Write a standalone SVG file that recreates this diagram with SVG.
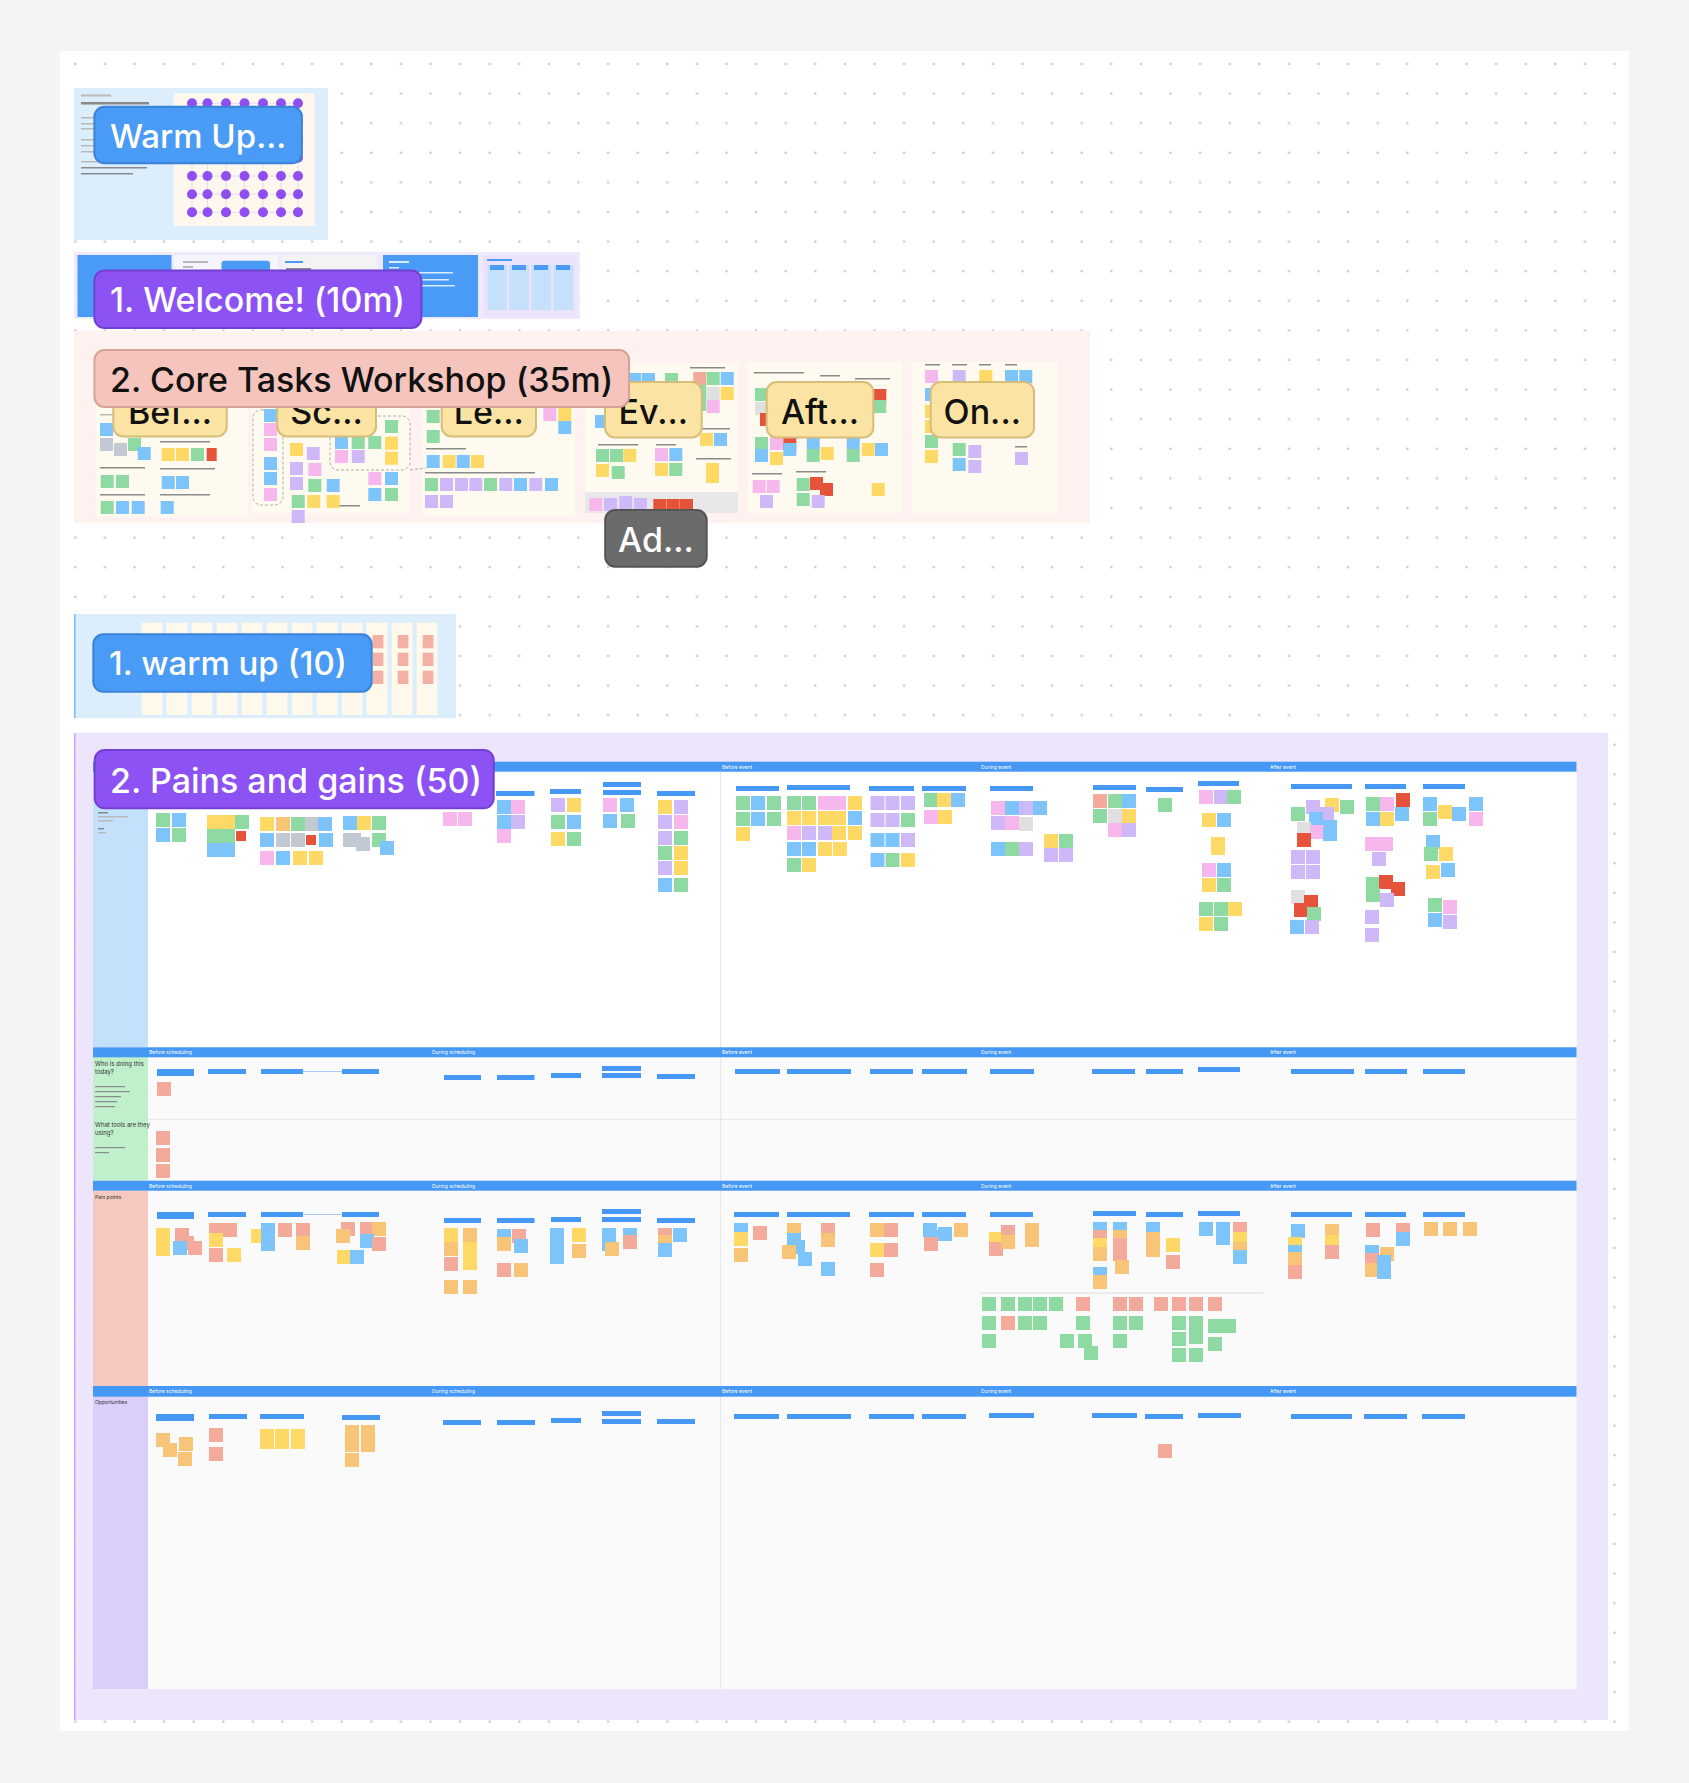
<svg xmlns="http://www.w3.org/2000/svg" width="1689" height="1783" viewBox="0 0 1689 1783">
<defs>
<pattern id="dots" width="29.6" height="29.6" patternUnits="userSpaceOnUse"><circle cx="16.1" cy="4.8" r="1.4" fill="#cdcdcd"/></pattern>
<style>
.s{width:14px;height:14px}
.c{width:13px;height:13px}
.Y{fill:#ffd966}.G{fill:#8fd9a3}.B{fill:#7dc4fa}.Pk{fill:#f6b8ec}.Pu{fill:#cfb8f7}.Sa{fill:#f4aa9b}.O{fill:#f8c477}.R{fill:#e5533a}.Gr{fill:#c3c9d3}.Lg{fill:#e0e0e0}
.hd{fill:#4598f3;height:5px}
.strip{fill:#4598f3}
.st{font-family:Inter,"Liberation Sans",sans-serif;font-size:5px;fill:#ffffff}
.lbl{font-family:Inter,"Liberation Sans",sans-serif;font-weight:500}
.tl{fill:#b9b9b9}
.td{fill:#8a8a8a}
.tw{fill:#ffffff;opacity:.8}
.pd{fill:#8f4ff0}
.col{fill:#fef9ea}
.pnl{fill:#fffaf0}
.sm{font-family:Inter,"Liberation Sans",sans-serif;font-size:6px;fill:#333}
</style>
</defs>
<rect width="1689" height="1783" fill="#f4f4f4"/>
<rect x="60" y="51" width="1569" height="1680" fill="#ffffff"/>
<rect x="60" y="51" width="1569" height="1680" fill="url(#dots)"/>

<g id="warmup-section">
<rect x="74" y="88" width="254" height="152" fill="#dcedfc"/>
<rect x="173.7" y="93.3" width="140.8" height="132.7" fill="#fdf7ee"/>
<g stroke="#e6dcf0" stroke-width="1">
<path d="M192 103v109M207.5 103v109M226 103v109M244.5 103v109M263 103v109M281 103v109M298 103v109"/>
<path d="M192 103.3h106M192 121.5h106M192 139.7h106M192 157.8h106M192 176h106M192 194.2h106M192 212.3h106"/>
</g>
<g class="pd">
<circle cx="192" cy="103.3" r="5"/><circle cx="207.5" cy="103.3" r="5"/><circle cx="226" cy="103.3" r="5"/><circle cx="244.5" cy="103.3" r="5"/><circle cx="263" cy="103.3" r="5"/><circle cx="281" cy="103.3" r="5"/><circle cx="298" cy="103.3" r="5"/>
<circle cx="192" cy="121.5" r="5"/><circle cx="207.5" cy="121.5" r="5"/><circle cx="226" cy="121.5" r="5"/><circle cx="244.5" cy="121.5" r="5"/><circle cx="263" cy="121.5" r="5"/><circle cx="281" cy="121.5" r="5"/><circle cx="298" cy="121.5" r="5"/>
<circle cx="192" cy="139.7" r="5"/><circle cx="207.5" cy="139.7" r="5"/><circle cx="226" cy="139.7" r="5"/><circle cx="244.5" cy="139.7" r="5"/><circle cx="263" cy="139.7" r="5"/><circle cx="281" cy="139.7" r="5"/><circle cx="298" cy="139.7" r="5"/>
<circle cx="192" cy="157.8" r="5"/><circle cx="207.5" cy="157.8" r="5"/><circle cx="226" cy="157.8" r="5"/><circle cx="244.5" cy="157.8" r="5"/><circle cx="263" cy="157.8" r="5"/><circle cx="281" cy="157.8" r="5"/><circle cx="298" cy="157.8" r="5"/>
<circle cx="192" cy="176" r="5"/><circle cx="207.5" cy="176" r="5"/><circle cx="226" cy="176" r="5"/><circle cx="244.5" cy="176" r="5"/><circle cx="263" cy="176" r="5"/><circle cx="281" cy="176" r="5"/><circle cx="298" cy="176" r="5"/>
<circle cx="192" cy="194.2" r="5"/><circle cx="207.5" cy="194.2" r="5"/><circle cx="226" cy="194.2" r="5"/><circle cx="244.5" cy="194.2" r="5"/><circle cx="263" cy="194.2" r="5"/><circle cx="281" cy="194.2" r="5"/><circle cx="298" cy="194.2" r="5"/>
<circle cx="192" cy="212.3" r="5"/><circle cx="207.5" cy="212.3" r="5"/><circle cx="226" cy="212.3" r="5"/><circle cx="244.5" cy="212.3" r="5"/><circle cx="263" cy="212.3" r="5"/><circle cx="281" cy="212.3" r="5"/><circle cx="298" cy="212.3" r="5"/>
</g>
<rect class="tl" x="81" y="94.5" width="30" height="2"/>
<rect class="td" x="81" y="102" width="68" height="2.5"/>
<rect class="tl" x="81" y="117" width="14" height="1.5"/><rect class="tl" x="81" y="123" width="14" height="1.5"/><rect class="tl" x="81" y="128" width="14" height="1.5"/>
<rect class="tl" x="81" y="139" width="14" height="1.5"/><rect class="tl" x="81" y="145" width="14" height="1.5"/><rect class="tl" x="81" y="151" width="14" height="1.5"/>
<rect class="tl" x="81" y="161" width="66" height="1.5"/><rect class="td" x="81" y="167" width="66" height="1.5"/><rect class="td" x="81" y="173" width="52" height="1.5"/>
<rect x="94.4" y="106.7" width="207.5" height="56.6" rx="10" fill="#4a9bf5" stroke="#3a83d8" stroke-width="2"/>
<text class="lbl" x="110" y="147.5" font-size="33" fill="#ffffff">Warm Up...</text>
</g>

<g id="welcome-section">
<rect x="74" y="252" width="506" height="67" fill="#efe9fb"/>
<rect x="77.5" y="255" width="94" height="62" fill="#4a9bf5"/>
<rect x="173.5" y="255" width="104.5" height="62" fill="#f6f4fd"/>
<rect class="tl" x="183" y="261" width="25" height="2"/><rect class="tl" x="183" y="266" width="10" height="2"/>
<rect x="221.5" y="260.7" width="48.5" height="24" rx="3" fill="#4a9bf5"/>
<rect x="282" y="255" width="95" height="62" fill="#f3f3f3"/>
<rect x="285" y="261" width="18" height="2" fill="#4a9bf5"/><rect class="td" x="286" y="268" width="25" height="2"/>
<rect x="383" y="255" width="95" height="62" fill="#4a9bf5"/>
<rect class="tw" x="389" y="261" width="20" height="2"/><rect class="tw" x="389" y="267" width="10" height="1.5"/><rect class="tw" x="419" y="272" width="34" height="1.5"/><rect class="tw" x="419" y="279" width="30" height="1.5"/><rect class="tw" x="419" y="285" width="36" height="1.5"/>
<rect x="483" y="255" width="94" height="62" fill="#ebe2fb"/>
<rect x="487" y="259" width="25" height="2" fill="#4a9bf5"/>
<rect x="487.5" y="265" width="19.5" height="45" fill="#c4e0fb"/><rect x="509.5" y="265" width="19.5" height="45" fill="#c4e0fb"/><rect x="531.5" y="265" width="19.5" height="45" fill="#c4e0fb"/><rect x="553.5" y="265" width="20" height="45" fill="#c4e0fb"/>
<rect x="490" y="265" width="14" height="5" fill="#4a9bf5"/><rect x="512" y="265" width="14" height="5" fill="#4a9bf5"/><rect x="534" y="265" width="14" height="5" fill="#4a9bf5"/><rect x="556" y="265" width="14" height="5" fill="#4a9bf5"/>
<rect x="94.4" y="270.5" width="327" height="57.5" rx="10" fill="#8c52f3" stroke="#7440d4" stroke-width="2"/>
<text class="lbl" x="110" y="311.5" font-size="34" fill="#ffffff">1. Welcome! (10m)</text>
</g>

<g id="core-tasks-section">
<rect x="74" y="331" width="1016" height="192" fill="#fdf2ef"/>
<rect class="pnl" x="96" y="364" width="152" height="153"/>
<rect class="pnl" x="252" y="364" width="158" height="149"/>
<rect class="pnl" x="423" y="364" width="152" height="152"/>
<rect class="pnl" x="585" y="363" width="153" height="150"/>
<rect x="585" y="492" width="153" height="21" fill="#e8e8e8"/>
<rect class="pnl" x="748" y="362" width="154" height="151"/>
<rect class="pnl" x="912" y="362" width="146" height="151"/>
<g fill="none" stroke="#9a9a9a" stroke-width="0.8" stroke-dasharray="3 2">
<rect x="253" y="410" width="30" height="95" rx="8"/>
<rect x="330" y="416" width="80" height="54" rx="8"/>
<path d="M410 470 L426 468"/>
</g>
<g id="core-text-lines">
<rect class="tl" x="100" y="414" width="40" height="1.5"/><rect class="td" x="160" y="441" width="50" height="1.5"/><rect class="td" x="100" y="467" width="45" height="1.5"/><rect class="td" x="160" y="468" width="55" height="1.5"/><rect class="td" x="100" y="494" width="45" height="1.5"/><rect class="td" x="160" y="494" width="50" height="1.5"/>
<rect class="td" x="426" y="448" width="40" height="1.5"/><rect class="td" x="425" y="472" width="110" height="1.5"/><rect class="td" x="330" y="505" width="30" height="1.5"/>
<rect class="td" x="598" y="444" width="40" height="1.5"/><rect class="td" x="656" y="444" width="20" height="1.5"/><rect class="td" x="695" y="428" width="35" height="1.5"/><rect class="td" x="696" y="458" width="35" height="1.5"/><rect class="td" x="690" y="367" width="35" height="1.5"/>
<rect class="td" x="754" y="372" width="50" height="1.5"/><rect class="td" x="820" y="375" width="20" height="1.5"/><rect class="td" x="855" y="378" width="35" height="1.5"/><rect class="td" x="752" y="473" width="30" height="1.5"/><rect class="td" x="796" y="471" width="30" height="1.5"/>
<rect class="td" x="925" y="364" width="15" height="1.5"/><rect class="td" x="952" y="364" width="15" height="1.5"/><rect class="td" x="979" y="364" width="12" height="1.5"/><rect class="td" x="1005" y="364" width="12" height="1.5"/><rect class="td" x="1015" y="446" width="12" height="1.5"/>
</g>
<g id="core-stickies">
<rect class="c B" x="100" y="423"/><rect class="c Gr" x="100" y="438" width="18"/><rect class="c Gr" x="114" y="443"/><rect class="c G" x="128" y="438"/><rect class="c B" x="137.7" y="447"/>
<rect class="c Y" x="161.7" y="448"/><rect class="c Y" x="176" y="448"/><rect class="c G" x="191" y="448"/><rect class="c R" x="206.7" y="448" style="width:10px"/>
<rect class="c G" x="100.7" y="475"/><rect class="c G" x="116" y="475"/><rect class="c B" x="161.7" y="476"/><rect class="c B" x="176" y="476"/>
<rect class="c G" x="100.7" y="501"/><rect class="c B" x="116" y="501"/><rect class="c B" x="131.7" y="501"/><rect class="c B" x="160.7" y="501"/>
<rect class="c B" x="264" y="409"/><rect class="c Pk" x="264" y="423"/><rect class="c Pk" x="264" y="438"/><rect class="c B" x="264" y="457"/><rect class="c B" x="264" y="472"/><rect class="c Pk" x="264" y="488"/>
<rect class="c Y" x="290" y="443"/><rect class="c Pu" x="306.7" y="447"/><rect class="c Pu" x="290" y="462"/><rect class="c Pk" x="308.3" y="463"/><rect class="c Pu" x="290" y="477"/><rect class="c G" x="308.3" y="479"/><rect class="c B" x="326.7" y="479"/>
<rect class="c G" x="291.7" y="495"/><rect class="c Y" x="307.3" y="495"/><rect class="c Y" x="326.7" y="495"/><rect class="c Pu" x="291.7" y="510"/>
<rect class="c B" x="335" y="436"/><rect class="c G" x="351.7" y="436"/><rect class="c G" x="368.3" y="436"/><rect class="c Pk" x="335" y="450"/><rect class="c Pu" x="351.7" y="450"/>
<rect class="c G" x="385" y="420"/><rect class="c Y" x="385" y="436.7"/><rect class="c Y" x="385" y="451.7"/><rect class="c Pk" x="368.3" y="472"/><rect class="c B" x="385" y="472"/><rect class="c B" x="368.3" y="488"/><rect class="c G" x="385" y="488"/>
<rect class="c G" x="426.7" y="410"/><rect class="c G" x="426.7" y="430"/><rect class="c B" x="426.7" y="455"/><rect class="c Y" x="442.7" y="455"/><rect class="c B" x="456.7" y="455"/><rect class="c Y" x="471" y="455"/>
<rect class="c G" x="425" y="478"/><rect class="c Pu" x="440" y="478"/><rect class="c Pu" x="455" y="478"/><rect class="c Pu" x="469.3" y="478"/><rect class="c G" x="484" y="478"/><rect class="c Pu" x="499.3" y="478"/><rect class="c B" x="514" y="478"/><rect class="c Pu" x="529.3" y="478"/><rect class="c B" x="545" y="478"/>
<rect class="c Pu" x="425" y="495"/><rect class="c Pu" x="440" y="495"/>
<rect class="c Pk" x="543.3" y="408"/><rect class="c Y" x="558.3" y="408"/><rect class="c B" x="558.3" y="421"/>
<rect class="c B" x="628.3" y="373"/><rect class="c B" x="642" y="373"/><rect class="c G" x="665" y="373"/>
<rect class="c Sa" x="693.3" y="372"/><rect class="c G" x="706.7" y="372"/><rect class="c B" x="720.7" y="372"/><rect class="c G" x="693.3" y="385"/><rect class="c Lg" x="706.7" y="387"/><rect class="c Y" x="720.7" y="387"/><rect class="c G" x="693.3" y="398"/><rect class="c Pk" x="706.7" y="400"/>
<rect class="c B" x="595" y="415"/><rect class="c Y" x="700" y="433"/><rect class="c B" x="714" y="433"/>
<rect class="c G" x="596" y="449"/><rect class="c G" x="610" y="449"/><rect class="c Y" x="623.3" y="449"/><rect class="c Y" x="596" y="464"/><rect class="c G" x="611.7" y="466"/>
<rect class="c Pk" x="655" y="448"/><rect class="c B" x="669.3" y="448"/><rect class="c Y" x="655" y="463"/><rect class="c G" x="669.3" y="463"/><rect class="c Y" x="706" y="463" style="height:20px"/>
<rect class="c Pk" x="589.3" y="498"/><rect class="c Pu" x="604" y="498"/><rect class="c Pu" x="619.3" y="496"/><rect class="c Pu" x="634" y="498"/><rect class="c R" x="653.3" y="499"/><rect class="c R" x="666.7" y="499"/><rect class="c R" x="680" y="499"/>
<rect class="c G" x="755" y="388"/><rect class="c Lg" x="755" y="402"/><rect class="c R" x="760" y="413"/><rect class="c R" x="873.3" y="389"/><rect class="c G" x="873.3" y="400"/>
<rect class="c G" x="755" y="437"/><rect class="c B" x="755" y="449"/><rect class="c Pk" x="770" y="437"/><rect class="c Y" x="770" y="452"/><rect class="c R" x="783.3" y="437"/><rect class="c B" x="783.3" y="443"/>
<rect class="c B" x="806.7" y="437"/><rect class="c G" x="806.7" y="449"/><rect class="c Y" x="820.7" y="447"/><rect class="c B" x="846.7" y="437"/><rect class="c G" x="846.7" y="449"/><rect class="c Y" x="861.7" y="443"/><rect class="c B" x="875" y="443"/>
<rect class="c Pk" x="752.7" y="480"/><rect class="c Pk" x="766.7" y="480"/><rect class="c Pu" x="760" y="495"/>
<rect class="c G" x="796.7" y="478"/><rect class="c R" x="810" y="477"/><rect class="c R" x="820" y="483"/><rect class="c G" x="796.7" y="493"/><rect class="c Pu" x="811.7" y="495"/><rect class="c Y" x="871.7" y="483"/>
<rect class="c Pk" x="925" y="370"/><rect class="c Pu" x="952.7" y="370"/><rect class="c Y" x="979.3" y="370"/><rect class="c B" x="1005" y="370"/><rect class="c B" x="1019.3" y="370"/>
<rect class="c B" x="925" y="388"/><rect class="c Y" x="925" y="405"/><rect class="c Y" x="925" y="420"/><rect class="c G" x="925" y="435"/><rect class="c Y" x="925" y="450"/>
<rect class="c G" x="952.7" y="443"/><rect class="c B" x="952.7" y="458"/><rect class="c Pu" x="968.3" y="445"/><rect class="c Pu" x="968.3" y="460"/><rect class="c Pu" x="1015" y="452"/>
</g>
<g id="core-sublabels" class="lbl" font-size="34" text-anchor="middle" fill="#111">
<rect x="113.3" y="382" width="113.4" height="54.5" rx="10" fill="#fbe4a3" stroke="#d6bd7a" stroke-width="2"/>
<text x="170" y="423.5">Bef...</text>
<rect x="277.3" y="382" width="98.7" height="54.5" rx="10" fill="#fbe4a3" stroke="#d6bd7a" stroke-width="2"/>
<text x="326.6" y="423.5">Sc...</text>
<rect x="441.7" y="382" width="94.3" height="54.5" rx="10" fill="#fbe4a3" stroke="#d6bd7a" stroke-width="2"/>
<text x="488.8" y="423.5">Le...</text>
<rect x="605" y="382" width="96.7" height="55.5" rx="10" fill="#fbe4a3" stroke="#d6bd7a" stroke-width="2"/>
<text x="653.3" y="423.5">Ev...</text>
<rect x="766.7" y="382" width="106.6" height="55.5" rx="10" fill="#fbe4a3" stroke="#d6bd7a" stroke-width="2"/>
<text x="820" y="423.5">Aft...</text>
<rect x="930.7" y="382" width="103.3" height="55.5" rx="10" fill="#fbe4a3" stroke="#d6bd7a" stroke-width="2"/>
<text x="982.3" y="423.5">On...</text>
</g>
<rect x="94.5" y="350" width="534.5" height="57" rx="10" fill="#f5c5bd" stroke="#d6a196" stroke-width="2"/>
<text class="lbl" x="110" y="392" font-size="34" fill="#111111">2. Core Tasks Workshop (35m)</text>
<g id="ad-label">
<rect x="605.2" y="510" width="101.5" height="56.7" rx="10" fill="#6b6b6b" stroke="#555555" stroke-width="2"/>
<text class="lbl" x="656" y="551.5" font-size="34" fill="#ffffff" text-anchor="middle">Ad...</text>
</g>
</g>

<g id="warmup10-section">
<rect x="74" y="614" width="382" height="104" fill="#dcedfc"/>
<rect x="74" y="614" width="1.5" height="104" fill="#7fb6f3"/>
<rect class="col" x="141.7" y="622.7" width="20.7" height="92.3"/><rect class="col" x="166.7" y="622.7" width="20.7" height="92.3"/><rect class="col" x="191.7" y="622.7" width="20.7" height="92.3"/><rect class="col" x="216.7" y="622.7" width="20.7" height="92.3"/><rect class="col" x="241.7" y="622.7" width="20.7" height="92.3"/><rect class="col" x="266.7" y="622.7" width="20.7" height="92.3"/><rect class="col" x="291.7" y="622.7" width="20.7" height="92.3"/><rect class="col" x="316.7" y="622.7" width="20.7" height="92.3"/><rect class="col" x="341.7" y="622.7" width="20.7" height="92.3"/><rect class="col" x="366.7" y="622.7" width="20.7" height="92.3"/><rect class="col" x="391.7" y="622.7" width="20.7" height="92.3"/><rect class="col" x="416.7" y="622.7" width="20.7" height="92.3"/>
<g fill="#f4b0a4">
<rect x="372.7" y="635" width="10.7" height="13.3"/><rect x="372.7" y="652.7" width="10.7" height="13.3"/><rect x="372.7" y="670.7" width="10.7" height="13.3"/>
<rect x="397.7" y="635" width="10.7" height="13.3"/><rect x="397.7" y="652.7" width="10.7" height="13.3"/><rect x="397.7" y="670.7" width="10.7" height="13.3"/>
<rect x="422.7" y="635" width="10.7" height="13.3"/><rect x="422.7" y="652.7" width="10.7" height="13.3"/><rect x="422.7" y="670.7" width="10.7" height="13.3"/>
</g>
<rect x="93.3" y="634.3" width="278.4" height="57.4" rx="10" fill="#4a9bf5" stroke="#3a83d8" stroke-width="2"/>
<text class="lbl" x="109" y="674.5" font-size="33" fill="#ffffff">1. warm up (10)</text>
</g>

<g id="pains-gains-section">
<rect x="74" y="733" width="1534" height="987" fill="#ede5fc"/>
<rect x="74" y="733" width="1.5" height="987" fill="#c3a8f3"/>
<rect x="93" y="762" width="1483.5" height="927" fill="#fafafa"/>
<rect x="93" y="771" width="1483.5" height="276" fill="#ffffff"/>
<rect x="93" y="771" width="55" height="276" fill="#c3e1fb"/>
<rect x="93" y="1057" width="55" height="123.5" fill="#bff0cb"/>
<rect x="93" y="1190.7" width="55" height="195.3" fill="#f5c9c0"/>
<rect x="93" y="1396.7" width="55" height="292.3" fill="#dccefa"/>
<path d="M720.7 771V1689M148 1119.3H1576.5" stroke="#e4e4e4" stroke-width="1" fill="none"/>
<path d="M981 1293H1263" stroke="#dcdcdc" stroke-width="1"/>
<rect class="strip" x="93" y="761.7" width="1483.5" height="10"/>
<rect class="strip" x="93" y="1047.3" width="1483.5" height="10"/>
<rect class="strip" x="93" y="1180.7" width="1483.5" height="10"/>
<rect class="strip" x="93" y="1386" width="1483.5" height="10.7"/>
<g class="st">
<text x="722" y="768.5">Before event</text><text x="981" y="768.5">During event</text><text x="1270" y="768.5">After event</text>
<text x="149" y="1054">Before scheduling</text><text x="432" y="1054">During scheduling</text><text x="722" y="1054">Before event</text><text x="981" y="1054">During event</text><text x="1270" y="1054">After event</text>
<text x="149" y="1187.5">Before scheduling</text><text x="432" y="1187.5">During scheduling</text><text x="722" y="1187.5">Before event</text><text x="981" y="1187.5">During event</text><text x="1270" y="1187.5">After event</text>
<text x="149" y="1393">Before scheduling</text><text x="432" y="1393">During scheduling</text><text x="722" y="1393">Before event</text><text x="981" y="1393">During event</text><text x="1270" y="1393">After event</text>
</g>
<g id="row-side-text">
<rect class="td" x="98" y="812" width="10" height="1.5"/><rect class="tl" x="98" y="816" width="30" height="1.5"/><rect class="tl" x="98" y="820" width="15" height="1.5"/><rect class="td" x="98" y="828" width="6" height="1.5"/><rect class="tl" x="98" y="832" width="8" height="1.5"/>
<text class="sm" x="95" y="1066">Who is doing this</text><text class="sm" x="95" y="1074">today?</text>
<rect class="td" x="95" y="1086" width="30" height="1.2"/><rect class="td" x="95" y="1091" width="35" height="1.2"/><rect class="td" x="95" y="1096" width="26" height="1.2"/><rect class="td" x="95" y="1101" width="22" height="1.2"/><rect class="td" x="95" y="1106" width="20" height="1.2"/>
<text class="sm" x="95" y="1127">What tools are they</text><text class="sm" x="95" y="1135">using?</text>
<rect class="td" x="95" y="1147" width="30" height="1.2"/><rect class="td" x="95" y="1152" width="14" height="1.2"/>
<text class="sm" x="95" y="1199" style="font-size:5px">Pain points</text>
<text class="sm" x="95" y="1404" style="font-size:5px">Opportunities</text>
</g>
<g id="column-headers">
<rect class="hd" x="157" y="1069" width="37" style="height:7px"/><rect class="hd" x="208" y="1069" width="38"/><rect class="hd" x="261" y="1069" width="42"/><rect class="hd" x="342" y="1069" width="37"/>
<rect x="303" y="1071" width="39" height="1" fill="#a9cdf7"/>
<rect class="hd" x="444" y="1075" width="37"/><rect class="hd" x="497" y="1075" width="37.5"/><rect class="hd" x="551" y="1073" width="30"/><rect class="hd" x="602" y="1066" width="39"/><rect class="hd" x="602" y="1073" width="39"/><rect class="hd" x="657" y="1074" width="38"/>
<rect class="hd" x="735" y="1069" width="45"/><rect class="hd" x="787" y="1069" width="64"/><rect class="hd" x="870" y="1069" width="43"/><rect class="hd" x="922" y="1069" width="45"/><rect class="hd" x="990" y="1069" width="44"/><rect class="hd" x="1092" y="1069" width="43"/><rect class="hd" x="1146" y="1069" width="37"/><rect class="hd" x="1198" y="1067" width="42"/><rect class="hd" x="1291" y="1069" width="63"/><rect class="hd" x="1365" y="1069" width="42"/><rect class="hd" x="1423" y="1069" width="42"/>

<rect class="hd" x="157" y="1212" width="37" style="height:7px"/><rect class="hd" x="208" y="1212" width="38"/><rect class="hd" x="261" y="1212" width="42"/><rect class="hd" x="342" y="1212" width="37"/>
<rect x="303" y="1214" width="39" height="1" fill="#a9cdf7"/>
<rect class="hd" x="444" y="1218" width="37"/><rect class="hd" x="497" y="1218" width="37.5"/><rect class="hd" x="551" y="1217" width="30"/><rect class="hd" x="602" y="1209" width="39"/><rect class="hd" x="602" y="1217" width="39"/><rect class="hd" x="657" y="1218" width="38"/>
<rect class="hd" x="734" y="1212" width="45"/><rect class="hd" x="787" y="1212" width="63"/><rect class="hd" x="869" y="1212" width="45"/><rect class="hd" x="922" y="1212" width="44"/><rect class="hd" x="990" y="1212" width="43"/><rect class="hd" x="1093" y="1211" width="43"/><rect class="hd" x="1146" y="1212" width="37"/><rect class="hd" x="1198" y="1211" width="42"/><rect class="hd" x="1291" y="1212" width="61"/><rect class="hd" x="1365" y="1212" width="41"/><rect class="hd" x="1423" y="1212" width="42"/>

<rect class="hd" x="156" y="1414" width="38" style="height:7px"/><rect class="hd" x="209" y="1414" width="38"/><rect class="hd" x="260" y="1414" width="44"/><rect class="hd" x="342" y="1415" width="38"/>
<rect class="hd" x="443" y="1420" width="38"/><rect class="hd" x="497" y="1420" width="38"/><rect class="hd" x="551" y="1418" width="30"/><rect class="hd" x="602" y="1411" width="39"/><rect class="hd" x="602" y="1419" width="39"/><rect class="hd" x="657" y="1419" width="38"/>
<rect class="hd" x="734" y="1414" width="45"/><rect class="hd" x="787" y="1414" width="64"/><rect class="hd" x="869" y="1414" width="45"/><rect class="hd" x="922" y="1414" width="44"/><rect class="hd" x="989" y="1413" width="45"/><rect class="hd" x="1092" y="1413" width="45"/><rect class="hd" x="1145" y="1414" width="38"/><rect class="hd" x="1198" y="1413" width="43"/><rect class="hd" x="1291" y="1414" width="61"/><rect class="hd" x="1364" y="1414" width="43"/><rect class="hd" x="1422" y="1414" width="43"/>

<rect class="hd" x="496" y="791" width="38.5"/><rect class="hd" x="550" y="789" width="31"/><rect class="hd" x="603" y="782" width="38"/><rect class="hd" x="603" y="790" width="38"/><rect class="hd" x="657" y="791" width="38"/>
<rect class="hd" x="736" y="786" width="43"/><rect class="hd" x="787" y="785" width="63"/><rect class="hd" x="869" y="786" width="45"/><rect class="hd" x="922" y="786" width="44"/><rect class="hd" x="990" y="786" width="43"/><rect class="hd" x="1093" y="785" width="43"/><rect class="hd" x="1146" y="787" width="37"/><rect class="hd" x="1198" y="781" width="41"/><rect class="hd" x="1291" y="784" width="61"/><rect class="hd" x="1365" y="784" width="41"/><rect class="hd" x="1423" y="784" width="42"/>
</g>
<g id="row1-stickies">
<rect class="s G" x="156" y="813"/><rect class="s B" x="172" y="813"/><rect class="s B" x="156" y="828"/><rect class="s G" x="172" y="828"/>
<rect class="s Y" x="207" y="815"/><rect class="s Y" x="221" y="815"/><rect class="s G" x="235" y="815"/><rect class="s G" x="207" y="829"/><rect class="s G" x="221" y="829"/><rect class="s R" x="236" y="831" style="width:10px;height:10px"/><rect class="s B" x="207" y="843"/><rect class="s B" x="221" y="843"/>
<rect class="s Y" x="260" y="817"/><rect class="s O" x="276" y="817"/><rect class="s G" x="291" y="817"/><rect class="s Gr" x="305" y="817"/><rect class="s B" x="318" y="817"/>
<rect class="s B" x="260" y="833"/><rect class="s Gr" x="276" y="833"/><rect class="s Gr" x="291" y="833"/><rect class="s R" x="306" y="835" style="width:10px;height:10px"/><rect class="s B" x="319" y="833"/>
<rect class="s Pk" x="260" y="851"/><rect class="s B" x="276" y="851"/><rect class="s Y" x="293" y="851"/><rect class="s Y" x="309" y="851"/>
<rect class="s B" x="343" y="816"/><rect class="s Y" x="357" y="816"/><rect class="s G" x="372" y="816"/><rect class="s Gr" x="343" y="833" style="width:18px"/><rect class="s Gr" x="356" y="837"/><rect class="s G" x="372" y="833"/><rect class="s B" x="380" y="841"/>
<rect class="s Pk" x="443" y="812"/><rect class="s Pk" x="458" y="812"/>
<rect class="s B" x="497" y="800"/><rect class="s Pk" x="511" y="800"/><rect class="s B" x="497" y="815"/><rect class="s Pu" x="511" y="815"/><rect class="s Pk" x="497" y="829"/>
<rect class="s Pu" x="551" y="798"/><rect class="s Y" x="567" y="798"/><rect class="s G" x="551" y="815"/><rect class="s B" x="567" y="815"/><rect class="s Y" x="551" y="832"/><rect class="s G" x="567" y="832"/>
<rect class="s Pk" x="603" y="798"/><rect class="s B" x="620" y="798"/><rect class="s B" x="603" y="814"/><rect class="s G" x="621" y="814"/>
<rect class="s Y" x="658" y="800"/><rect class="s Pu" x="658" y="815"/><rect class="s Pu" x="658" y="831"/><rect class="s G" x="658" y="846"/><rect class="s Pu" x="658" y="861"/><rect class="s B" x="658" y="878"/>
<rect class="s Pu" x="674" y="800"/><rect class="s Pk" x="674" y="815"/><rect class="s G" x="674" y="831"/><rect class="s Y" x="674" y="846"/><rect class="s Y" x="674" y="861"/><rect class="s G" x="674" y="878"/>
<rect class="s G" x="736" y="796"/><rect class="s B" x="751" y="796"/><rect class="s G" x="767" y="796"/><rect class="s G" x="736" y="812"/><rect class="s B" x="751" y="812"/><rect class="s G" x="767" y="812"/><rect class="s Y" x="736" y="827"/>
<rect class="s G" x="787" y="796"/><rect class="s G" x="802" y="796"/><rect class="s Pk" x="818" y="796"/><rect class="s Pk" x="832" y="796"/><rect class="s Y" x="848" y="796"/>
<rect class="s Y" x="787" y="811"/><rect class="s Y" x="802" y="811"/><rect class="s Y" x="818" y="811"/><rect class="s Y" x="832" y="811"/><rect class="s B" x="848" y="811"/>
<rect class="s Pk" x="787" y="826"/><rect class="s Pu" x="802" y="826"/><rect class="s Pu" x="818" y="826"/><rect class="s Y" x="832" y="826"/><rect class="s Y" x="848" y="826"/>
<rect class="s B" x="787" y="842"/><rect class="s B" x="802" y="842"/><rect class="s Y" x="818" y="842"/><rect class="s Y" x="833" y="842"/>
<rect class="s G" x="787" y="858"/><rect class="s Y" x="802" y="858"/>
<rect class="s Pu" x="870.5" y="796"/><rect class="s Pu" x="885.5" y="796"/><rect class="s Pu" x="901" y="796"/>
<rect class="s Pu" x="870.5" y="813"/><rect class="s Pu" x="885.5" y="813"/><rect class="s G" x="901" y="813"/>
<rect class="s B" x="870.5" y="833"/><rect class="s B" x="885.5" y="833"/><rect class="s Pu" x="901" y="833"/>
<rect class="s B" x="870.5" y="853"/><rect class="s G" x="885.5" y="853"/><rect class="s Y" x="901" y="853"/>
<rect class="s G" x="924" y="793"/><rect class="s Y" x="937" y="793"/><rect class="s B" x="951" y="793"/><rect class="s Pk" x="924" y="810"/><rect class="s Y" x="938" y="810"/>
<rect class="s Pk" x="991" y="801"/><rect class="s B" x="1005" y="801"/><rect class="s Pu" x="1019" y="801"/><rect class="s B" x="1033" y="801"/>
<rect class="s Pu" x="991" y="816"/><rect class="s Pk" x="1005" y="816"/><rect class="s Lg" x="1019" y="817"/>
<rect class="s B" x="991" y="842"/><rect class="s G" x="1005" y="842"/><rect class="s Pu" x="1019" y="842"/>
<rect class="s Y" x="1044" y="834"/><rect class="s G" x="1059" y="834"/><rect class="s Pu" x="1044" y="848"/><rect class="s Pu" x="1059" y="848"/>
<rect class="s Sa" x="1093" y="794"/><rect class="s G" x="1108" y="794"/><rect class="s B" x="1122" y="794"/>
<rect class="s G" x="1093" y="809"/><rect class="s Lg" x="1108" y="809"/><rect class="s Y" x="1122" y="809"/>
<rect class="s Pk" x="1108" y="823"/><rect class="s Pu" x="1122" y="823"/>
<rect class="s G" x="1158" y="798"/>
<rect class="s Pk" x="1199" y="790"/><rect class="s Pu" x="1214" y="790"/><rect class="s G" x="1227" y="790"/>
<rect class="s Y" x="1202" y="813"/><rect class="s B" x="1217" y="813"/><rect class="s Y" x="1211" y="837" style="height:18px"/>
<rect class="s Pk" x="1202" y="863"/><rect class="s B" x="1217" y="863"/><rect class="s Y" x="1202" y="878"/><rect class="s G" x="1217" y="878"/>
<rect class="s G" x="1199" y="902"/><rect class="s G" x="1214" y="902"/><rect class="s Y" x="1228" y="902"/><rect class="s Y" x="1199" y="917"/><rect class="s G" x="1214" y="917"/>
<rect class="s G" x="1291" y="807"/><rect class="s Pu" x="1306" y="800"/><rect class="s Y" x="1325" y="798"/><rect class="s G" x="1340" y="800"/><rect class="s Pu" x="1320" y="807"/><rect class="s B" x="1309" y="812"/><rect class="s B" x="1323" y="820"/><rect class="s Lg" x="1297" y="822"/><rect class="s Pk" x="1310" y="825"/><rect class="s B" x="1323" y="827"/><rect class="s R" x="1297" y="833"/>
<rect class="s Pu" x="1291" y="850"/><rect class="s Pu" x="1306" y="850"/><rect class="s Pu" x="1291" y="865"/><rect class="s Pu" x="1306" y="865"/>
<rect class="s Lg" x="1291" y="890"/><rect class="s R" x="1304" y="895"/><rect class="s R" x="1294" y="903"/><rect class="s G" x="1307" y="907"/><rect class="s B" x="1290" y="920"/><rect class="s Pu" x="1305" y="920"/>
<rect class="s G" x="1366" y="797"/><rect class="s Pk" x="1380" y="797"/><rect class="s R" x="1396" y="793"/><rect class="s B" x="1366" y="812"/><rect class="s Y" x="1380" y="812"/><rect class="s B" x="1395" y="807"/>
<rect class="s Pk" x="1365" y="837"/><rect class="s Pk" x="1379" y="837"/><rect class="s Pu" x="1372" y="852"/>
<rect class="s G" x="1366" y="877"/><rect class="s R" x="1379" y="875"/><rect class="s R" x="1391" y="882"/><rect class="s G" x="1366" y="888"/><rect class="s Pu" x="1380" y="893"/>
<rect class="s Pu" x="1365" y="910"/><rect class="s Pu" x="1365" y="928"/>
<rect class="s B" x="1423" y="797"/><rect class="s Y" x="1438" y="805"/><rect class="s B" x="1452" y="807"/><rect class="s B" x="1469" y="797"/><rect class="s Pk" x="1469" y="812"/><rect class="s G" x="1423" y="812"/>
<rect class="s B" x="1426" y="835"/><rect class="s G" x="1424" y="847"/><rect class="s Y" x="1439" y="847"/><rect class="s Y" x="1426" y="865"/><rect class="s B" x="1441" y="863"/>
<rect class="s G" x="1428" y="898"/><rect class="s Pk" x="1443" y="900"/><rect class="s B" x="1428" y="913"/><rect class="s Pu" x="1443" y="915"/>
</g>
<g id="row2-stickies">
<rect class="s Sa" x="157" y="1082"/><rect class="s Sa" x="156" y="1131"/><rect class="s Sa" x="156" y="1148"/><rect class="s Sa" x="156" y="1164"/>
</g>
<g id="row3-stickies">
<rect class="s Y" x="156" y="1228"/><rect class="s Y" x="156" y="1242"/><rect class="s Sa" x="175" y="1228"/><rect class="s Sa" x="180" y="1236"/><rect class="s B" x="173" y="1241"/><rect class="s Sa" x="188" y="1241"/>
<rect class="s Sa" x="209" y="1223"/><rect class="s Y" x="209" y="1233"/><rect class="s Sa" x="223" y="1223"/><rect class="s Sa" x="209" y="1248"/><rect class="s Y" x="227" y="1248"/>
<rect class="s Y" x="251" y="1229"/><rect class="s B" x="261" y="1223"/><rect class="s B" x="261" y="1237"/><rect class="s Sa" x="278" y="1223"/><rect class="s Sa" x="296" y="1223"/><rect class="s O" x="296" y="1236"/>
<rect class="s Sa" x="341" y="1222"/><rect class="s O" x="336" y="1229"/><rect class="s Sa" x="360" y="1222"/><rect class="s O" x="372" y="1222"/><rect class="s B" x="360" y="1234"/><rect class="s Sa" x="372" y="1237"/><rect class="s Y" x="337" y="1250"/><rect class="s B" x="350" y="1250"/>
<rect class="s Y" x="444" y="1228"/><rect class="s O" x="463" y="1228"/><rect class="s O" x="444" y="1242"/><rect class="s Y" x="463" y="1242" style="height:28px"/><rect class="s Sa" x="444" y="1257"/><rect class="s O" x="444" y="1280"/><rect class="s O" x="463" y="1280"/>
<rect class="s B" x="497" y="1229"/><rect class="s Sa" x="512" y="1229"/><rect class="s O" x="497" y="1237"/><rect class="s B" x="514" y="1239"/><rect class="s Sa" x="497" y="1263"/><rect class="s O" x="514" y="1263"/>
<rect class="s B" x="550" y="1228"/><rect class="s B" x="550" y="1237"/><rect class="s B" x="550" y="1250"/><rect class="s Y" x="572" y="1228"/><rect class="s O" x="572" y="1244"/>
<rect class="s B" x="602" y="1228"/><rect class="s B" x="602" y="1237"/><rect class="s O" x="605" y="1242"/><rect class="s B" x="623" y="1228"/><rect class="s Sa" x="623" y="1235"/>
<rect class="s Sa" x="658" y="1228"/><rect class="s O" x="658" y="1235"/><rect class="s B" x="658" y="1243"/><rect class="s B" x="673" y="1228"/>
<rect class="s B" x="734" y="1223"/><rect class="s Y" x="734" y="1232"/><rect class="s O" x="734" y="1248"/><rect class="s Sa" x="753" y="1226"/>
<rect class="s O" x="787" y="1223"/><rect class="s B" x="787" y="1233"/><rect class="s B" x="791" y="1240"/><rect class="s O" x="782" y="1245"/><rect class="s B" x="798" y="1252"/><rect class="s Sa" x="821" y="1223"/><rect class="s O" x="821" y="1233"/><rect class="s B" x="821" y="1262"/>
<rect class="s O" x="870" y="1223"/><rect class="s Sa" x="884" y="1223"/><rect class="s Y" x="870" y="1243"/><rect class="s Sa" x="884" y="1243"/><rect class="s Sa" x="870" y="1263"/>
<rect class="s B" x="923" y="1223"/><rect class="s B" x="924" y="1230"/><rect class="s Sa" x="924" y="1237"/><rect class="s B" x="938" y="1227"/><rect class="s O" x="954" y="1223"/>
<rect class="s Y" x="989" y="1232"/><rect class="s Sa" x="989" y="1242"/><rect class="s Sa" x="1001" y="1225"/><rect class="s O" x="1001" y="1235"/><rect class="s O" x="1025" y="1223"/><rect class="s O" x="1025" y="1233"/>
<rect class="s B" x="1093" y="1222"/><rect class="s Sa" x="1093" y="1230"/><rect class="s Y" x="1093" y="1238"/><rect class="s O" x="1093" y="1247"/><rect class="s B" x="1093" y="1267"/><rect class="s O" x="1093" y="1275"/>
<rect class="s B" x="1113" y="1222"/><rect class="s O" x="1113" y="1230"/><rect class="s Sa" x="1113" y="1238"/><rect class="s Sa" x="1113" y="1247"/><rect class="s O" x="1115" y="1260"/>
<rect class="s B" x="1146" y="1222"/><rect class="s O" x="1146" y="1232"/><rect class="s O" x="1146" y="1243"/><rect class="s Y" x="1166" y="1238"/><rect class="s Sa" x="1166" y="1255"/>
<rect class="s B" x="1199" y="1222"/><rect class="s B" x="1216" y="1222"/><rect class="s B" x="1216" y="1231"/><rect class="s Sa" x="1233" y="1222"/><rect class="s Y" x="1233" y="1232"/><rect class="s O" x="1233" y="1242"/><rect class="s B" x="1233" y="1250"/>
<rect class="s B" x="1291" y="1224"/><rect class="s Y" x="1288" y="1237"/><rect class="s B" x="1288" y="1245"/><rect class="s O" x="1288" y="1252"/><rect class="s Sa" x="1288" y="1265"/><rect class="s O" x="1325" y="1224"/><rect class="s Y" x="1325" y="1235"/><rect class="s Sa" x="1325" y="1245"/>
<rect class="s Sa" x="1366" y="1223"/><rect class="s B" x="1365" y="1245"/><rect class="s Sa" x="1365" y="1253"/><rect class="s O" x="1365" y="1263"/><rect class="s O" x="1380" y="1247"/><rect class="s B" x="1377" y="1255"/><rect class="s B" x="1377" y="1265"/><rect class="s Sa" x="1396" y="1223"/><rect class="s B" x="1396" y="1232"/>
<rect class="s O" x="1424" y="1222"/><rect class="s O" x="1443" y="1222"/><rect class="s O" x="1463" y="1222"/>
<rect class="s G" x="982" y="1297"/><rect class="s G" x="1001" y="1297"/><rect class="s G" x="1018" y="1297"/><rect class="s G" x="1033" y="1297"/><rect class="s G" x="1049" y="1297"/><rect class="s Sa" x="1076" y="1297"/><rect class="s Sa" x="1113" y="1297"/><rect class="s Sa" x="1129" y="1297"/><rect class="s Sa" x="1154" y="1297"/><rect class="s Sa" x="1172" y="1297"/><rect class="s Sa" x="1189" y="1297"/><rect class="s Sa" x="1208" y="1297"/>
<rect class="s G" x="982" y="1316"/><rect class="s Sa" x="1001" y="1316"/><rect class="s G" x="1018" y="1316"/><rect class="s G" x="1033" y="1316"/><rect class="s G" x="1076" y="1316"/><rect class="s G" x="1113" y="1316"/><rect class="s G" x="1129" y="1316"/><rect class="s G" x="1172" y="1316"/><rect class="s G" x="1189" y="1316"/><rect class="s G" x="1208" y="1319"/><rect class="s G" x="1222" y="1319"/>
<rect class="s G" x="982" y="1334"/><rect class="s G" x="1060" y="1334"/><rect class="s G" x="1078" y="1334"/><rect class="s G" x="1113" y="1334"/><rect class="s G" x="1189" y="1330"/><rect class="s G" x="1208" y="1337"/><rect class="s G" x="1172" y="1332"/>
<rect class="s G" x="1084" y="1346"/><rect class="s G" x="1172" y="1348"/><rect class="s G" x="1189" y="1348"/>
</g>
<g id="row4-stickies">
<rect class="s O" x="156" y="1433"/><rect class="s O" x="163" y="1443"/><rect class="s O" x="179" y="1437"/><rect class="s O" x="178" y="1452"/>
<rect class="s Sa" x="209" y="1428"/><rect class="s Sa" x="209" y="1447"/>
<rect class="s Y" x="260" y="1429" style="height:20px"/><rect class="s Y" x="275" y="1429" style="height:20px"/><rect class="s Y" x="291" y="1429" style="height:20px"/>
<rect class="s O" x="345" y="1425"/><rect class="s O" x="345" y="1438"/><rect class="s O" x="345" y="1453"/><rect class="s O" x="361" y="1425"/><rect class="s O" x="361" y="1438"/>
<rect class="s Sa" x="1158" y="1444"/>
</g>
<rect x="94.7" y="750" width="399" height="58.3" rx="10" fill="#8c52f3" stroke="#7440d4" stroke-width="2"/>
<text class="lbl" x="110" y="793.3" font-size="34" fill="#ffffff">2. Pains and gains (50)</text>
</g>
<g id="connectors"/>
</svg>
